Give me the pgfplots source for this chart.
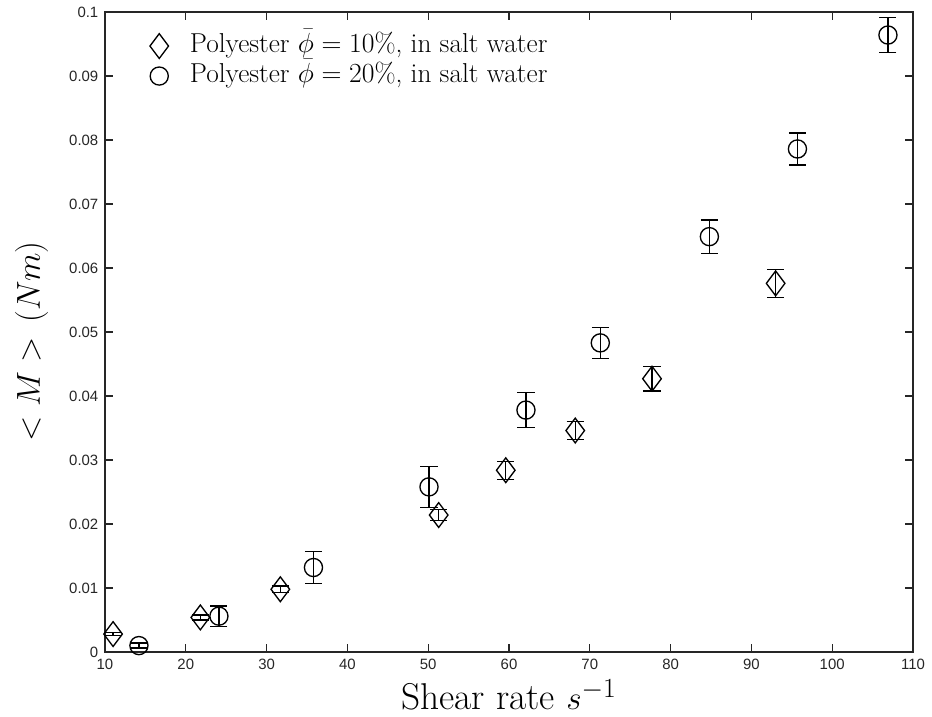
\documentclass[border=0pt]{standalone}
\usepackage{fontspec}
\usepackage{pgfplots}
\usepackage{pgfplotstable}
\pgfplotsset{compat=1.18}
\usetikzlibrary{calc}
\newfontfamily\ticksf{Liberation Sans}
\definecolor{axgray}{HTML}{262626}

% shear rate, mean torque, error
\pgfplotstableread{
x     y       e
11.0  0.0028  0.0002
21.8  0.0054  0.0004
31.7  0.0098  0.0005
51.3  0.0214  0.0009
59.6  0.0284  0.0014
68.2  0.0346  0.0014
77.7  0.0427  0.0019
93.0  0.0576  0.0022
}\tenpct

\pgfplotstableread{
x      y       e
14.2   0.0010  0.0004
24.1   0.0056  0.0016
35.8   0.0132  0.0025
50.1   0.0258  0.0032
62.1   0.0378  0.0027
71.3   0.0483  0.0024
84.8   0.0649  0.0026
95.7   0.0786  0.0025
106.9  0.0964  0.0027
}\twentypct

\begin{document}
\begin{tikzpicture}
\begin{axis}[
  scale only axis,
  width=606pt, height=480pt,
  xmin=10, xmax=110, ymin=0, ymax=0.1,
  xtick={10,20,30,40,50,60,70,80,90,100,110},
  ytick={0,0.01,0.02,0.03,0.04,0.05,0.06,0.07,0.08,0.09,0.1},
  scaled y ticks=false,
  yticklabel style={/pgf/number format/fixed, /pgf/number format/precision=2},
  /pgf/number format/assume math mode=true,
  tick label style={font=\ticksf\fontsize{11.2}{13}\selectfont, text=axgray},
  xticklabel style={yshift=-2pt},
  yticklabel style={xshift=-1.5pt},
  axis line style={axgray, line width=0.8pt},
  tick style={axgray, line width=0.8pt},
  tick align=inside,
  major tick length=6pt,
  xlabel={Shear rate $s^{-1}$},
  ylabel={$<M>\,(Nm)$},
  label style={font=\fontsize{28}{32}\selectfont},
  xlabel style={at={(axis description cs:0.5,0)}, anchor=base, yshift=-43pt},
  ylabel style={at={(axis description cs:0,0.5)}, anchor=center, yshift=55pt, xshift=-7pt},
  clip=false,
  legend style={draw=none, fill=none, inner sep=0pt,
    at={(0.0553,0.967)}, anchor=north west,
    font=\fontsize{20.5}{24}\selectfont,
    nodes={inner sep=0pt, text height=14pt, text depth=5pt},
    column sep=16pt, row sep=3.5pt},
  legend cell align=left,
]
\addplot[only marks, mark=diamond, mark options={draw=black, fill=none, line width=1pt},
  mark size=9.3pt,
  error bars/.cd, y dir=both, y explicit,
  error bar style={line width=1pt, black},
  error mark options={rotate=90, mark size=6.4pt, line width=1pt, black}]
  table[x=x, y=y, y error=e] {\tenpct};
\addlegendentry{Polyester $\bar{\phi}=10\%$, in salt water}

\addplot[only marks, mark=o, mark options={draw=black, fill=none, line width=1pt},
  mark size=6.8pt,
  error bars/.cd, y dir=both, y explicit,
  error bar style={line width=1pt, black},
  error mark options={rotate=90, mark size=6.4pt, line width=1pt, black}]
  table[x=x, y=y, y error=e] {\twentypct};
\addlegendentry{Polyester $\bar{\phi}=20\%$, in salt water}
\end{axis}
\pgfresetboundingbox
\path[use as bounding box] ($(current axis.south west)+(-78.75pt,-48.75pt)$)
  rectangle ($(current axis.north east)+(14.25pt,9pt)$);
\end{tikzpicture}
\end{document}
